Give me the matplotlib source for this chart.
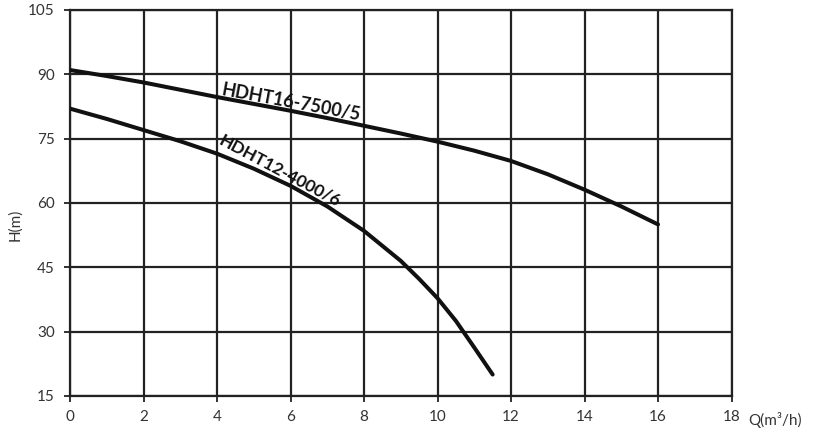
import matplotlib.pyplot as plt

plt.rcParams['font.family'] = ['Lato', 'DejaVu Sans']

# flow (m3/h) and head (m)
q_16 = [0, 1, 2, 3, 4, 5, 6, 7, 8, 9, 10, 11, 12, 13, 14, 15, 16]
h_16 = [91, 89.6, 88.1, 86.4, 84.7, 83.1, 81.5, 79.8, 78.0, 76.2, 74.3, 72.2, 69.8, 66.7, 63.1, 59.2, 55]

q_12 = [0, 1, 2, 3, 4, 5, 6, 7, 8, 9, 9.5, 10, 10.5, 11, 11.5]
h_12 = [82, 79.6, 77.0, 74.4, 71.5, 68.0, 64.0, 59.2, 53.5, 46.5, 42.3, 37.8, 32.5, 26.3, 20]

label_16 = "HDHT16-7500/5"
label_12 = "HDHT12-4000/6"

x_ticks = [0, 2, 4, 6, 8, 10, 12, 14, 16, 18]
y_ticks = [15, 30, 45, 60, 75, 90, 105]

GRID = "#222222"

fig = plt.figure(figsize=(8.13, 4.34), dpi=100)
ax = fig.add_axes([0.0861, 0.0876, 0.8137, 0.8894])

ax.set_xlim(0, 18)
ax.set_ylim(15, 105)
ax.set_xticks(x_ticks)
ax.set_yticks(y_ticks)
ax.grid(True, color=GRID, linewidth=1.6)
ax.set_axisbelow(True)
for s in ax.spines.values():
    s.set_linewidth(1.6)
    s.set_color(GRID)

ax.tick_params(direction="out", length=4, width=1.3, color=GRID,
               labelsize=11, labelcolor="#333333")
ax.tick_params(axis="x", pad=6)
ax.tick_params(axis="y", pad=7)

ax.plot(q_16, h_16, color="#111111", linewidth=2.9, solid_capstyle="round", zorder=3)
ax.plot(q_12, h_12, color="#111111", linewidth=2.9, solid_capstyle="round", zorder=3)

ax.text(6.0, 83.4, label_16, rotation=-10.5, ha="center", va="center",
        fontsize=13, fontweight="bold", color="#111111", zorder=4)
ax.text(5.7, 67.6, label_12, rotation=-28, ha="center", va="center",
        fontsize=12.5, fontweight="bold", color="#111111", zorder=4)

fig.text(0.019, 0.482, "H(m)", fontsize=11, color="#333333", rotation=90,
         ha="center", va="center")
fig.text(0.92, 0.033, "Q(m³/h)", fontsize=11, color="#333333", ha="left", va="center")

fig.savefig("out.png", dpi=100)
